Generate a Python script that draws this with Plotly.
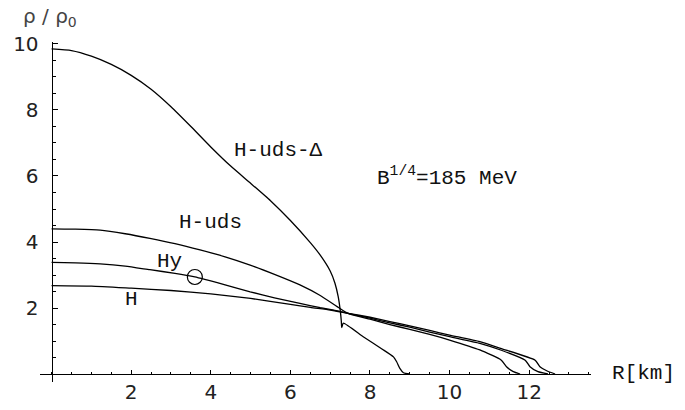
import plotly.graph_objects as go

# ---- data ----
r_hud_delta = [0.0, 0.5, 1.0, 1.5, 2.0, 2.5, 3.0, 3.5, 4.0, 4.5, 5.0, 5.5, 6.0, 6.5, 6.75, 7.0,
               7.12, 7.2, 7.25, 7.28, 7.29, 7.33, 7.83, 8.3, 8.59, 8.67, 8.75, 8.84, 9.0]
rho_hud_delta = [9.85, 9.8, 9.63, 9.38, 9.05, 8.63, 8.1, 7.5, 6.88, 6.3, 5.78, 5.25, 4.65, 3.98, 3.6, 3.12,
                 2.75, 2.35, 1.95, 1.6, 1.41, 1.54, 1.13, 0.76, 0.52, 0.37, 0.17, 0.04, 0.0]

r_hud = [0.0, 0.6, 1.22, 1.85, 2.47, 3.1, 3.73, 4.36, 4.99, 5.6, 6.24, 6.75, 7.24, 7.45, 8.0, 8.5, 9.0, 9.5, 10.0,
         10.76, 11.3, 11.43, 11.6, 11.77]
rho_hud = [4.4, 4.39, 4.36, 4.25, 4.11, 3.95, 3.76, 3.55, 3.3, 3.02, 2.7, 2.38, 1.99, 1.84, 1.66, 1.5, 1.35, 1.2, 1.03,
           0.73, 0.42, 0.22, 0.07, 0.0]

r_hy = [0.0, 0.6, 1.22, 1.85, 2.47, 3.1, 3.6, 4.36, 4.99, 5.6, 6.24, 6.75, 7.24, 7.45, 8.0, 8.5, 9.0, 9.5, 10.0,
        10.76, 11.3, 11.9, 12.02, 12.22, 12.47]
rho_hy = [3.38, 3.37, 3.34, 3.27, 3.16, 3.05, 2.94, 2.7, 2.49, 2.31, 2.14, 2.01, 1.9, 1.84, 1.69, 1.55, 1.42, 1.27, 1.13,
          0.93, 0.72, 0.42, 0.22, 0.07, 0.0]

r_h = [0.0, 1.0, 2.0, 3.0, 4.0, 5.0, 6.0, 6.5, 7.0, 7.45, 8.0, 8.5, 9.0, 9.5, 10.0,
       10.76, 11.3, 12.15, 12.27, 12.44, 12.65]
rho_h = [2.68, 2.665, 2.6, 2.53, 2.43, 2.29, 2.11, 2.02, 1.94, 1.84, 1.72, 1.59, 1.46, 1.32, 1.18,
         0.98, 0.77, 0.42, 0.22, 0.1, 0.0]

marker_r = [3.6]
marker_rho = [2.94]

x_ticks = [2, 4, 6, 8, 10, 12]
y_ticks = [2, 4, 6, 8, 10]

# curve labels (text, r, rho)
labels = [("H-uds-Δ", 5.71, 6.76), ("H-uds", 4.0, 4.58), ("Hy", 2.97, 3.42), ("H", 2.02, 2.27)]

x_range = [-0.291, 13.553]
y_range = [-0.242, 10.06]

fig = go.Figure()
line_style = dict(color="black", width=1.3, shape="spline", smoothing=0.5)
for rr, yy in [(r_hud_delta, rho_hud_delta), (r_hud, rho_hud), (r_hy, rho_hy), (r_h, rho_h)]:
    fig.add_trace(go.Scatter(x=rr, y=yy, mode="lines", line=line_style, showlegend=False, hoverinfo="skip"))

fig.add_trace(go.Scatter(x=marker_r, y=marker_rho, mode="markers",
                         marker=dict(symbol="circle-open", size=15, color="black", line=dict(width=1.2)),
                         showlegend=False, hoverinfo="skip"))

mono = "Liberation Mono, Courier New, monospace"
sans = "DejaVu Sans, sans-serif"
ann = []
for t, xx, yy in labels:
    ann.append(dict(text=t, x=xx, y=yy, xref="x", yref="y", showarrow=False,
                    xanchor="center", yanchor="middle",
                    font=dict(family=mono, size=21, color="#111")))
ann.append(dict(text="B<sup>1/4</sup>=185 MeV", x=8.13, y=5.98, xref="x", yref="y", xanchor="left",
                yanchor="middle", showarrow=False, font=dict(family=mono, size=21, color="#111")))
ann.append(dict(text="R[km]", x=1.096, y=0.026, xref="paper", yref="paper", showarrow=False,
                xanchor="center", yanchor="middle",
                font=dict(family=mono, size=21, color="#111")))
ann.append(dict(text="ρ / ρ<sub>0</sub>", x=0.018, y=1.074, xref="paper", yref="paper", showarrow=False,
                xanchor="center", yanchor="middle",
                font=dict(family=sans, size=20, color="#444")))

xpos = (0 - y_range[0]) / (y_range[1] - y_range[0])
ypos = (0 - x_range[0]) / (x_range[1] - x_range[0])

fig.update_layout(
    width=685, height=410,
    margin=dict(l=40, r=94, t=42, b=28, autoexpand=False),
    paper_bgcolor="white", plot_bgcolor="white",
    annotations=ann,
    xaxis=dict(range=x_range, domain=[0, 1], anchor="free", position=xpos, automargin=False,
               showline=True, linecolor="black", linewidth=1,
               ticks="inside", ticklen=4, tickwidth=1, tickcolor="black",
               tickmode="array", tickvals=x_ticks,
               minor=dict(tick0=0, dtick=0.5, ticks="inside", ticklen=2.5, tickcolor="black", showgrid=False),
               showgrid=False, zeroline=False,
               tickfont=dict(family=sans, size=20, color="#222")),
    yaxis=dict(range=y_range, domain=[0, 1], anchor="free", position=ypos, automargin=False,
               showline=True, linecolor="black", linewidth=1,
               ticks="inside", ticklen=5, tickwidth=1, tickcolor="black",
               tickmode="array", tickvals=y_ticks, ticklabelstandoff=9,
               minor=dict(tick0=0, dtick=0.5, ticks="inside", ticklen=3, tickcolor="black", showgrid=False),
               showgrid=False, zeroline=False,
               tickfont=dict(family=sans, size=20, color="#222")),
)

fig.write_html("out.html")
